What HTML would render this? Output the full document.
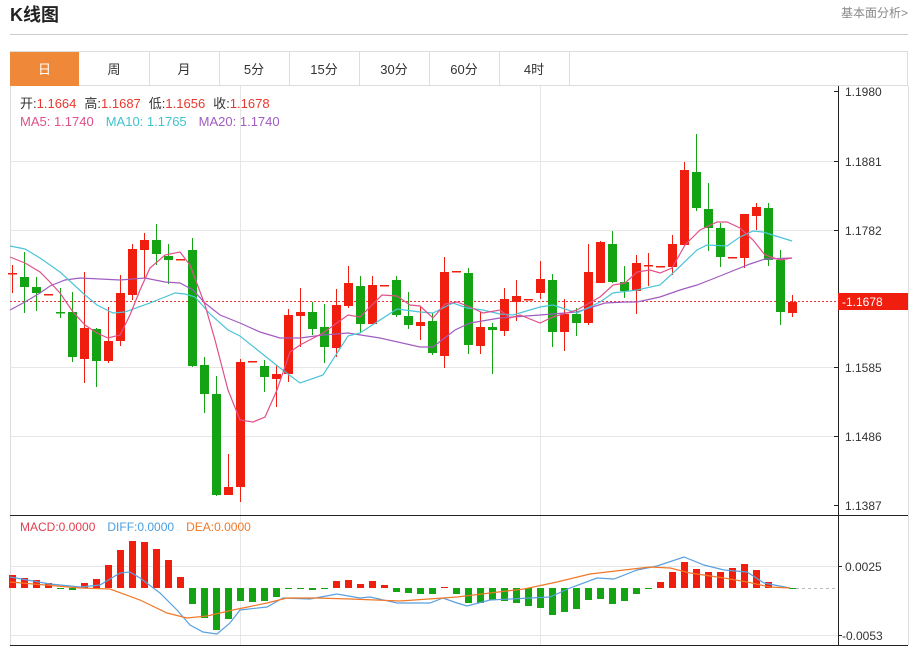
<!DOCTYPE html>
<html><head><meta charset="utf-8">
<style>
html,body{margin:0;padding:0;background:#fff;width:917px;height:647px;overflow:hidden;font-family:"Liberation Sans","Noto Sans CJK SC",sans-serif;}
</style></head>
<body>
<svg id="s" width="917" height="647" viewBox="0 0 917 647" xmlns="http://www.w3.org/2000/svg" font-family="Liberation Sans, Noto Sans CJK SC, sans-serif">
<text x="10" y="21" font-size="18" font-weight="bold" fill="#222">K线图</text>
<text x="908" y="17" font-size="12" fill="#888" text-anchor="end">基本面分析&gt;</text>
<line x1="10" y1="34.5" x2="908" y2="34.5" stroke="#ccc"/>
<!-- tabs -->
<rect x="10.5" y="51.5" width="897" height="34" fill="#fff" stroke="#ddd"/>
<rect x="10" y="52" width="69" height="34" fill="#f0883a"/>
<g stroke="#ddd"><line x1="149.5" y1="52" x2="149.5" y2="86"/><line x1="219.5" y1="52" x2="219.5" y2="86"/><line x1="289.5" y1="52" x2="289.5" y2="86"/><line x1="359.5" y1="52" x2="359.5" y2="86"/><line x1="429.5" y1="52" x2="429.5" y2="86"/><line x1="499.5" y1="52" x2="499.5" y2="86"/><line x1="569.5" y1="52" x2="569.5" y2="86"/></g>
<g font-size="13" text-anchor="middle" fill="#333"><text x="44.5" y="74" fill="#fff">日</text><text x="114" y="74">周</text><text x="184" y="74">月</text><text x="254" y="74">5分</text><text x="324" y="74">15分</text><text x="394" y="74">30分</text><text x="464" y="74">60分</text><text x="534" y="74">4时</text></g>
<!-- frame -->
<line x1="10.5" y1="86" x2="10.5" y2="645" stroke="#ddd"/>
<line x1="908.5" y1="86" x2="908.5" y2="645" stroke="#ddd"/>
<g stroke="#e6e6e6"><line x1="10" y1="161.5" x2="838" y2="161.5"/><line x1="10" y1="230.5" x2="838" y2="230.5"/><line x1="10" y1="367.5" x2="838" y2="367.5"/><line x1="10" y1="436.5" x2="838" y2="436.5"/><line x1="10" y1="566.5" x2="838" y2="566.5"/><line x1="10" y1="635.5" x2="838" y2="635.5"/><line x1="240.5" y1="86" x2="240.5" y2="645"/><line x1="540.5" y1="86" x2="540.5" y2="645"/></g>
<line x1="10" y1="515.5" x2="908" y2="515.5" stroke="#222"/>
<line x1="10" y1="645.5" x2="908" y2="645.5" stroke="#222"/>
<line x1="838.5" y1="86" x2="838.5" y2="645" stroke="#222"/>
<g stroke="#222"><line x1="834" y1="91.5" x2="838" y2="91.5"/><line x1="834" y1="161.5" x2="838" y2="161.5"/><line x1="834" y1="230.5" x2="838" y2="230.5"/><line x1="834" y1="367.5" x2="838" y2="367.5"/><line x1="834" y1="436.5" x2="838" y2="436.5"/><line x1="834" y1="505.5" x2="838" y2="505.5"/><line x1="838" y1="566.5" x2="842" y2="566.5"/><line x1="838" y1="635.5" x2="842" y2="635.5"/></g>
<g font-size="12" fill="#333"><text x="845" y="96">1.1980</text><text x="845" y="166">1.1881</text><text x="845" y="235">1.1782</text><text x="845" y="372">1.1585</text><text x="845" y="441">1.1486</text><text x="845" y="510">1.1387</text><text x="845" y="571">0.0025</text><text x="842" y="640">-0.0053</text></g>
<line x1="10" y1="301.5" x2="838" y2="301.5" stroke="#e33" stroke-dasharray="2,2"/>
<rect x="838" y="293" width="70" height="17" fill="#f01e0e"/>
<text x="842" y="306" font-size="12" fill="#fff">-1.1678</text>
<line x1="790" y1="588.5" x2="838" y2="588.5" stroke="#bbb" stroke-dasharray="3,3"/>
<!-- info -->
<g font-size="13"><text x="20" y="108"><tspan fill="#333">开:</tspan><tspan fill="#e8382e">1.1664</tspan><tspan fill="#333" dx="8">高:</tspan><tspan fill="#e8382e">1.1687</tspan><tspan fill="#333" dx="8">低:</tspan><tspan fill="#e8382e">1.1656</tspan><tspan fill="#333" dx="8">收:</tspan><tspan fill="#e8382e">1.1678</tspan></text>
<text x="20" y="126"><tspan fill="#e0508a">MA5: 1.1740</tspan><tspan fill="#3ec4cc" dx="12">MA10: 1.1765</tspan><tspan fill="#a05cc0" dx="12">MA20: 1.1740</tspan></text>
<text x="20" y="531" font-size="12"><tspan fill="#e04050">MACD:0.0000</tspan><tspan fill="#4a9ee0" dx="12">DIFF:0.0000</tspan><tspan fill="#f07828" dx="12">DEA:0.0000</tspan></text></g>
<g id="c"></g>
<g fill="none" stroke-width="1.2">
<polyline stroke="#a05cc0" points="10,310 25,302 40,293 50,286 65,280 80,278 100,279 120,280 145,278 165,282 180,283 193,290 205,303 220,315 240,323 260,332 280,338 300,338 323,335 348,333 380,338 420,347 433,347 455,330 470,323 500,318 540,315 577,312 605,303 625,302 637,302 660,297 680,290 697,285 710,280 730,272 750,264 765,259 792,258"/>
<polyline stroke="#4cc4d8" points="10,246 25,249 40,258 60,272 85,295 97,305 113,313 125,312 150,303 175,293 185,294 195,297 210,314 228,330 240,336 260,352 280,368 300,383 323,375 348,336 360,333 397,309 420,312 433,313 453,303 467,308 483,310 500,314 513,315 540,307 553,305 577,313 600,302 613,293 637,290 660,285 673,273 697,250 707,245 727,246 740,237 753,231 763,232 792,241"/>
<polyline stroke="#e0508a" points="10,257 25,263 40,272 48,280 60,293 73,312 85,325 97,333 108,338 120,335 130,315 140,290 150,268 165,255 180,252 190,265 205,305 215,340 228,390 240,420 253,422 265,417 277,390 290,352 300,345 323,333 348,315 360,317 382,295 397,296 410,305 420,306 433,318 445,304 457,302 470,307 483,313 500,310 510,318 520,315 540,323 553,317 577,310 600,297 613,285 625,283 637,272 650,270 660,273 672,268 685,245 700,230 717,222 727,222 740,228 753,240 765,255 780,260 792,258"/>
<polyline stroke="#5aa0e0" points="10,577 50,584 80,587 100,585 120,573 130,572 140,578 160,593 177,610 190,625 203,632 217,634 230,623 240,610 267,607 283,598 310,599 337,594 360,598 370,597 397,603 430,603 443,598 457,603 467,606 490,600 550,597 570,588 597,578 614,579 637,570 657,566 684,557 704,565 724,570 747,572 764,583 790,588"/>
<polyline stroke="#f07828" points="10,582 80,588 110,589 140,600 167,613 187,618 207,616 233,610 267,603 287,598 317,598 350,599 400,601 443,598 457,597 490,593 524,589 557,582 590,574 624,570 650,567 670,568 690,573 724,578 747,582 770,587 790,588"/>
</g>
</svg>
<script>
var D=[[273,274,265,293,1],[277,287,252,313,0],[287,293,277,311,0],[294,295,294,295,1],[312,313,288,318,0],[312,357,292,362,0],[328,359,272,383,1],[329,361,328,387,0],[341,361,307,363,1],[293,341,275,346,1],[249,295,244,300,1],[240,250,233,278,1],[240,254,224,265,0],[256,260,244,284,0],[259,260,259,260,1],[250,366,238,367,0],[365,394,357,413,0],[394,495,376,496,0],[487,495,454,495,1],[362,487,359,502,1],[361,362,361,362,1],[366,377,360,392,0],[374,379,365,407,1],[315,374,309,382,1],[312,316,288,347,1],[312,329,302,335,0],[327,347,304,363,0],[305,348,289,357,1],[283,306,266,308,1],[286,324,276,333,0],[285,324,276,324,1],[285,286,285,286,1],[280,315,276,317,0],[316,325,292,329,0],[322,326,306,340,1],[321,353,313,355,0],[272,356,257,368,1],[271,272,271,272,1],[273,345,268,354,0],[327,346,312,354,1],[327,330,323,374,0],[299,331,288,336,1],[296,302,280,321,1],[299,300,299,300,1],[279,293,261,299,1],[280,332,274,347,0],[314,332,299,351,1],[314,323,308,336,0],[272,323,244,325,1],[242,283,241,283,1],[244,282,231,283,0],[282,291,266,298,0],[263,291,255,314,1],[265,266,253,286,1],[266,267,266,267,1],[244,267,235,275,1],[170,245,162,246,1],[172,208,134,211,0],[209,228,183,251,0],[228,257,223,267,0],[257,258,257,258,1],[214,258,214,268,1],[207,216,203,230,1],[208,260,203,266,0],[260,312,250,325,0],[302,313,295,317,1]];
var M=[575,578,580,583,588,590,583,579,565,550,541,542,549,560,577,604,618,630,619,601,602,601,597,589,588,590,588,581,580,584,581,585,592,593,594,594,587,594,603,603,600,601,603,606,608,615,612,609,600,599,604,601,594,589,582,572,562,569,572,572,568,564,570,582,587,588];
var h='';
for(var i=0;i<D.length;i++){var d=D[i],x=12.5+12*i,c=d[4]?'#f01e0e':'#13a313';
h+='<line x1="'+x+'" x2="'+x+'" y1="'+d[2]+'" y2="'+d[3]+'" stroke="'+c+'"/>';
var hh=Math.max(d[1]-d[0],1.5);h+='<rect x="'+(x-4.5)+'" y="'+d[0]+'" width="9" height="'+hh+'" fill="'+c+'"/>';
var m=M[i],t=Math.min(m,588),b=Math.max(m,588),mc=m<588?'#f01e0e':'#13a313';
h+='<rect x="'+(x-3.5)+'" y="'+t+'" width="7" height="'+Math.max(b-t,1)+'" fill="'+mc+'"/>';}
document.getElementById('c').innerHTML=h;
</script>
</body></html>
